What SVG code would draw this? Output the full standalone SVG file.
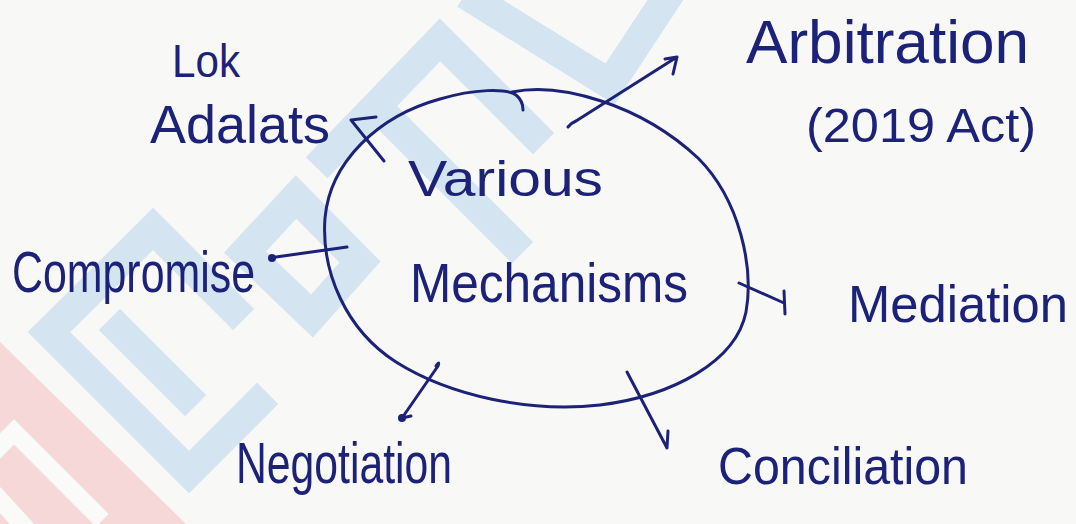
<svg xmlns="http://www.w3.org/2000/svg" width="1076" height="524" viewBox="0 0 1076 524">
  <style>
    .ink { fill: none; stroke: #1c2277; stroke-width: 3; stroke-linecap: round; stroke-linejoin: round; }
    .dot { fill: #1c2277; }
    .label { font-family: "Liberation Sans", "DejaVu Sans", sans-serif; fill: #1c2277; }
    .wm-blue { fill: none; stroke: #d4e4f0; stroke-width: 30; stroke-linejoin: miter; stroke-linecap: square; }
    .wm-red { fill: #f6d8d9; }
    .wm-gap { fill: none; stroke: #fafaf8; stroke-width: 18; stroke-linecap: square; }
  </style>

  <!-- paper -->
  <rect width="1076" height="524" fill="#f8f8f6"/>

  <!-- faint diagonal watermark behind the sketch -->
  <g id="watermark">
    <!-- red letter, lower left -->
    <polygon class="wm-red" points="0,342 186,524 0,524"/>
    <polyline class="wm-gap" points="0,446 14,432 96,514"/>
    <polyline class="wm-gap" points="0,500 22,524"/>
    <!-- outlined letter F -->
    <polyline class="wm-blue" points="233,309 153,229 49,332 189,472 257,404"/>
    <polyline class="wm-blue" points="120,330 185,395"/>
    <!-- outlined letter O -->
    <polygon class="wm-blue" points="245,252 296,197 360,262 312,316"/>
    <!-- further letters towards the top -->
    <polyline class="wm-blue" points="327,157 440,40 533,133"/>
    <polyline class="wm-blue" points="378,108 512,242"/>
    <polyline class="wm-blue" points="478,2 610,84 668,-4"/>
  </g>

  <!-- central node -->
  <g id="node-centre">
    <path class="ink" d="M512,92 C560,82 640,104 698,158 C740,200 754,268 746,312 C736,362 672,396 600,405 C530,413 450,396 396,362 C346,330 321,272 325,218 C330,162 378,116 440,99 C474,89 506,88 516,95 C521,99 523,104 523,110"/>
    <text class="label" x="408" y="196" font-size="50" textLength="195" lengthAdjust="spacingAndGlyphs">Various</text>
    <text class="label" x="410" y="302" font-size="56" textLength="278" lengthAdjust="spacingAndGlyphs">Mechanisms</text>
  </g>

  <!-- outer nodes -->
  <g id="node-lok-adalats">
    <text class="label" x="172" y="77" font-size="46" textLength="68" lengthAdjust="spacingAndGlyphs">Lok</text>
    <text class="label" x="150" y="143" font-size="54" textLength="180" lengthAdjust="spacingAndGlyphs">Adalats</text>
  </g>
  <g id="node-arbitration">
    <text class="label" x="746" y="63" font-size="62" textLength="283" lengthAdjust="spacingAndGlyphs">Arbitration</text>
    <text class="label" x="806" y="142" font-size="48" textLength="230" lengthAdjust="spacingAndGlyphs">(2019 Act)</text>
  </g>
  <g id="node-compromise">
    <text class="label" x="12" y="292" font-size="58" textLength="243" lengthAdjust="spacingAndGlyphs">Compromise</text>
  </g>
  <g id="node-mediation">
    <text class="label" x="848" y="322" font-size="52" textLength="220" lengthAdjust="spacingAndGlyphs">Mediation</text>
  </g>
  <g id="node-negotiation">
    <text class="label" x="236" y="483" font-size="58" textLength="216" lengthAdjust="spacingAndGlyphs">Negotiation</text>
  </g>
  <g id="node-conciliation">
    <text class="label" x="718" y="484" font-size="52" textLength="250" lengthAdjust="spacingAndGlyphs">Conciliation</text>
  </g>

  <!-- connectors -->
  <g id="connectors">
    <!-- to Lok Adalats -->
    <path class="ink" d="M384,161 L351,120 M351,120 L376,117"/>
    <!-- to Arbitration -->
    <path class="ink" d="M568,127 Q571,123 576,121 L677,57 M677,57 L673,74 M677,57 L665,59"/>
    <!-- to Compromise -->
    <path class="ink" d="M347,247 L276,257"/>
    <circle class="dot" cx="272" cy="258" r="4"/>
    <!-- to Mediation -->
    <path class="ink" d="M739,283 L784,303 M784,291 L785,314"/>
    <!-- to Negotiation -->
    <path class="ink" d="M436,366 Q440,360 438,366 L402,418 M402,418 L411,416"/>
    <circle class="dot" cx="402" cy="418" r="4"/>
    <!-- to Conciliation -->
    <path class="ink" d="M627,372 L667,448 M667,448 L668,431"/>
  </g>
</svg>
